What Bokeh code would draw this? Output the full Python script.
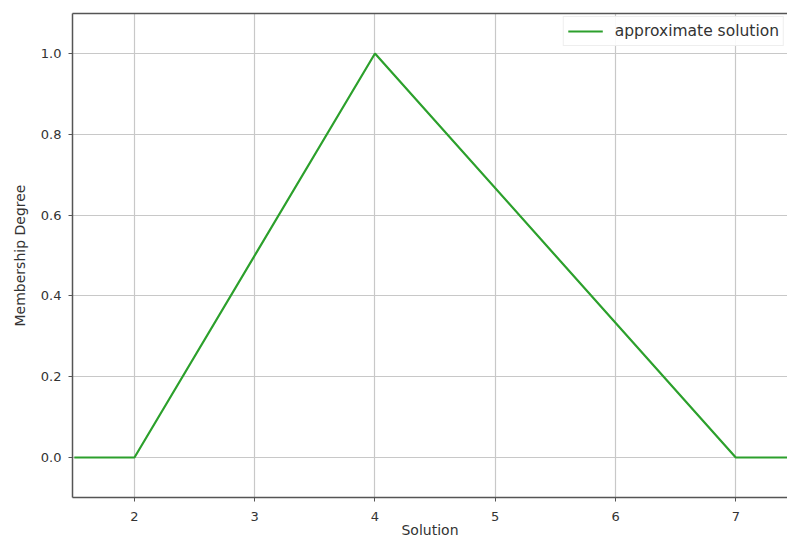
from bokeh.plotting import figure
from bokeh.models import Range1d, LinearAxis, Legend, LegendItem, FixedTicker, CustomJSTickFormatter
from bokeh.embed import file_html
from bokeh.resources import INLINE

x_vals = [1.5, 2, 4, 7, 7.5]
membership = [0.0, 0.0, 1.0, 0.0, 0.0]
x_ticks = [2, 3, 4, 5, 6, 7]
y_ticks = [0.0, 0.2, 0.4, 0.6, 0.8, 1.0]

p = figure(width=787, height=541, output_backend="svg", toolbar_location=None,
           x_range=Range1d(1.485, 7.43), y_range=Range1d(-0.099, 1.099),
           min_border_left=72, min_border_right=0, min_border_top=13, min_border_bottom=44,
           x_axis_label="Solution", y_axis_label="Membership Degree")
p.outline_line_color = None
p.background_fill_color = "white"
p.border_fill_color = "white"

r = p.line(x_vals, membership, line_color="#2ca02c", line_width=2.2)

for ax in (p.xaxis[0], p.yaxis[0]):
    ax.axis_line_color = "#555555"
    ax.axis_line_width = 1.5
    ax.major_tick_in = 0
    ax.major_tick_out = 4
    ax.major_tick_line_color = "#555555"
    ax.minor_tick_line_color = None
    ax.major_label_text_font = "DejaVu Sans"
    ax.major_label_text_font_size = "13px"
    ax.major_label_text_color = "#333333"
    ax.axis_label_text_font = "DejaVu Sans"
    ax.axis_label_text_font_size = "14px"
    ax.axis_label_text_font_style = "normal"
    ax.axis_label_text_color = "#333333"

p.xaxis[0].major_label_standoff = 10
p.xaxis[0].axis_label_standoff = -2
p.yaxis[0].major_label_standoff = 7
p.yaxis[0].axis_label_standoff = 10

p.xaxis[0].ticker = FixedTicker(ticks=x_ticks)
p.yaxis[0].ticker = FixedTicker(ticks=y_ticks)
p.yaxis[0].formatter = CustomJSTickFormatter(code="return tick.toFixed(1);")

top = LinearAxis(ticker=FixedTicker(ticks=[]), major_label_text_font_size="0px",
                 axis_line_color="#555555", axis_line_width=1.5,
                 major_tick_line_color=None, minor_tick_line_color=None)
p.add_layout(top, "above")

p.xgrid.ticker = FixedTicker(ticks=x_ticks)
p.ygrid.ticker = FixedTicker(ticks=y_ticks)
for g in (p.xgrid[0], p.ygrid[0]):
    g.grid_line_color = "#c8c8c8"
    g.grid_line_width = 1.2

legend = Legend(items=[LegendItem(label="approximate solution", renderers=[r])],
                location="top_right")
legend.label_text_font = "DejaVu Sans"
legend.label_text_font_size = "15.5px"
legend.label_text_color = "#333333"
legend.border_line_color = "#dddddd"
legend.border_line_width = 1
legend.background_fill_alpha = 0.9
legend.margin = 3
legend.padding = 4
legend.glyph_width = 35
legend.label_standoff = 12
legend.spacing = 0
p.add_layout(legend)

open("out.html", "w").write(file_html(p, INLINE))
